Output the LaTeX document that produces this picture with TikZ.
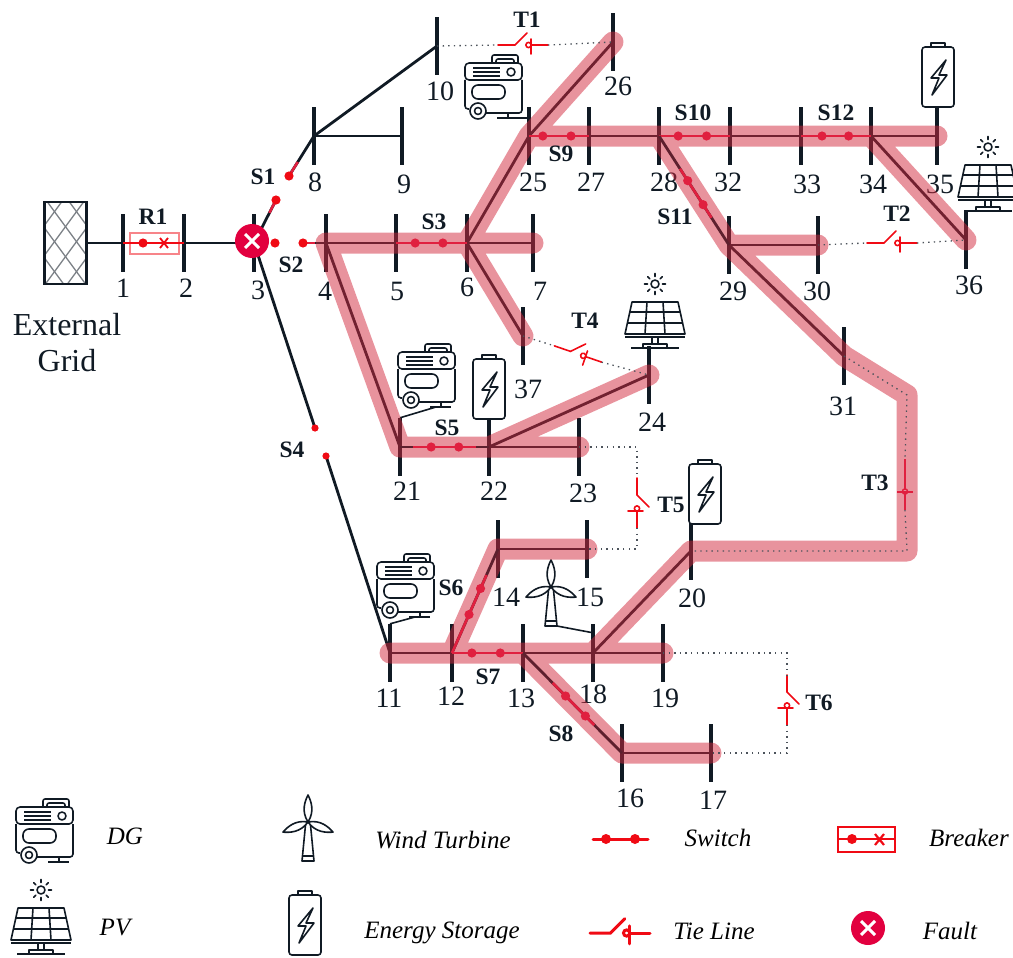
\documentclass[tikz,border=0pt]{standalone}
\usepackage{fontspec}
\setmainfont{Liberation Serif}
\usetikzlibrary{arrows.meta,calc,positioning}
\definecolor{ink}{HTML}{101A24}
\definecolor{swred}{HTML}{E0203F}
\definecolor{purered}{HTML}{F00A14}
\definecolor{faultred}{HTML}{E2003F}
\definecolor{feederred}{HTML}{D2283C}
\tikzset{
  bus/.style={rectangle, fill=ink, inner sep=0pt, minimum width=4pt, minimum height=58pt},
  buslabel/.style={text=ink, font=\fontsize{28}{28}\selectfont, inner sep=0pt},
  tag/.style={text=ink, font=\fontsize{23.5}{24}\selectfont\bfseries, inner sep=0pt},
  legendtext/.style={font=\fontsize{25}{25}\selectfont\itshape, inner sep=0pt},
  branch/.style={draw=ink, line width=2.8pt},
  feeder/.style={draw=feederred, draw opacity=.5, line width=21pt, line cap=round, line join=round},
  swline/.style={draw=swred, line width=2.6pt},
  swdot/.style={fill=swred},
  tiedots/.style={draw=ink!75, line width=1.3pt, dash pattern=on 1.4pt off 4.2pt},
  iconline/.style={draw=ink, line width=1.6pt, line join=round},
  % generator unit, origin at the top left corner
  dgunit/.pic={
    \draw[iconline, rounded corners=2pt] (27,9) -- (27,1) -- (53,1) -- (53,9);
    \draw[iconline, rounded corners=2pt] (31,9) -- (31,5) -- (49,5) -- (49,9);
    \draw[iconline, rounded corners=4pt] (0,26) -- (0,9) -- (57,9) -- (57,26) -- cycle;
    \draw[iconline, rounded corners=3pt] (4,55) -- (0,55) -- (0,26);
    \draw[iconline, rounded corners=3pt] (57,26) -- (57,59) -- (21,59);
    \foreach \v in {14,18,22} \draw[iconline] (8,\v) -- (35,\v);
    \draw[iconline] (46,18) circle (4pt);
    \draw[iconline, rounded corners=6pt] (7,31) rectangle (40,45);
    \draw[iconline, fill=white] (13,57) circle (8pt);
    \draw[iconline] (13,57) circle (3.5pt);
    \draw[iconline] (43,59) -- (43,64) (32,64) -- (53,64);
    \coordinate (-out) at (38,64);
  },
  % solar panel, origin at the centre of the sun
  pvunit/.pic={
    \draw[iconline] (0,0) circle (4pt);
    \foreach \a in {0,45,...,315} \draw[iconline, line cap=round] (\a:7.5) -- (\a:10.5);
    \draw[iconline, fill=white] (-23,18) -- (23,18) -- (30,50) -- (-30,50) -- cycle;
    \draw[iconline] (-30,53) -- (30,53);
    \draw[iconline] (-25,28) -- (25,28) (-28,39) -- (28,39);
    \draw[iconline] (-8,18) -- (-10,50) (8,18) -- (10,50);
    \draw[iconline] (-3,53) -- (-3,60) (3,53) -- (3,60);
    \draw[iconline] (-12,64) -- (-12,60) -- (12,60) -- (12,64);
    \draw[iconline] (-24,64) -- (24,64);
    \coordinate (-out) at (-14,64);
  },
  % battery, origin at the middle of the body's top edge
  storeunit/.pic={
    \draw[iconline] (-7,0) -- (-7,-4) -- (7,-4) -- (7,0);
    \draw[iconline, fill=white, rounded corners=3pt] (-16,0) rectangle (16,60);
    \draw[iconline] (8,13) -- (-7,31) -- (1,31) -- (-6,48) -- (9,28) -- (1,28) -- cycle;
  },
  % wind turbine, origin at the hub
  windunit/.pic={
    \foreach \a in {0,112,-112}
      \draw[iconline, fill=white, rotate=\a] (0,0) .. controls (-7,-11) and (-3,-21) .. (0,-27) .. controls (3,-21) and (7,-11) .. (0,0);
    \draw[iconline] (-2.5,3) -- (-6,39) -- (6,39) -- (2.5,3);
    \draw[iconline] (-5.5,34) -- (5.5,34);
    \coordinate (-out) at (6,39);
  },
  % open tie switch, drawn along its own x axis
  tieline/.pic={
    \draw[pic actions, line cap=round] (-25,0) -- (-8,0) -- (4,-12);
    \draw[pic actions, line cap=round] (9,0) -- (25,0) (8,-6) -- (8,9);
    \draw[pic actions] (5.5,0) circle (2.6pt);
    \coordinate (-in) at (-25,0);
    \coordinate (-out) at (25,0);
  },
  faultmark/.pic={
    \fill[faultred] (0,0) circle (17pt);
    \draw[white, line width=3pt] (-7,-7) -- (7,7) (-7,7) -- (7,-7);
  },
}
\begin{document}
\begin{tikzpicture}[x=1pt, y=-1pt]
  \useasboundingbox (0,0) rectangle (1013,958);
  % Busbars and their numbers
  \foreach \n/\bx/\by/\lx/\ly in {
      1/123/243/123/288, 2/184/243/186/288, 3/254/243/258/290, 4/326/243/325/291,
      5/396/243/397/291, 6/467/243/467/287, 7/533/243/540/291, 8/314/136/315/182,
      9/402/136/404/184, 10/437/46/440/91, 25/529/136/533/182, 26/613/42/618/86,
      27/589/136/591/182, 28/659/136/664/182, 32/730/136/728/182, 33/801/136/807/184,
      34/871/136/873/184, 35/937/136/940/184, 36/966/240/969/285, 29/729/245/733/291,
      30/818/245/817/291, 31/844/356/843/406, 21/400/447/407/491, 22/489/447/494/491,
      23/579/447/583/493, 24/649/375/652/422, 20/691/551/692/598, 14/498/549/506/597,
      15/587/549/590/597, 11/390/653/389/698, 12/452/653/451/696, 13/523/653/521/698,
      18/593/653/593/694, 19/663/653/665/698, 16/622/753/630/798, 17/711/753/713/800,
      37/523/336/528/389}
  {
    \node[bus] (b\n) at (\bx,\by) {};
    \node[buslabel] (l\n) at (\lx,\ly) {\n};
  }
  % External grid
  \node[draw=ink, line width=2.2pt, minimum width=42pt, minimum height=82pt, inner sep=0pt, path picture={
      \foreach \k in {-66,-44,...,44} {
        \draw[ink!55, line width=1.3pt] ($(path picture bounding box.north west)+(\k,-4)$) -- ++(66,90);
        \draw[ink!55, line width=1.3pt] ($(path picture bounding box.north east)+(-\k,-4)$) -- ++(-66,90);
      }}] (ext) at (65.5,243) {};
  \node[text=ink, font=\fontsize{32}{36}\selectfont, align=center, inner sep=0pt] (extname) at (67,343) {External\\Grid};
  % Open ends of the switches S1, S2 and S4
  \coordinate (s1a) at (276,200);
  \coordinate (s1b) at (289,176);
  \coordinate (s2a) at (275,243);
  \coordinate (s2b) at (303,243);
  \coordinate (s4a) at (315,428);
  \coordinate (s4b) at (326,456);
  % Plain lines
  \draw[branch] (ext) -- (b1.center);
  \draw[branch] (b2.center) -- (b3.center);
  \draw[branch] (b3.center) -- (s1a);
  \draw[branch] (s1b) -- (b8.center);
  \draw[branch] (s2b) -- (b4.center);
  \draw[branch] (b3.center) -- (s4a);
  \draw[branch] (s4b) -- (b11.center);
  \draw[branch] (b8.center) -- (b9.center);
  \draw[branch] (b8.center) -- (b10.center);
  \foreach \a/\b in {b4/b5, b6/b7, b6/b37, b6/b25, b25/b26, b27/b28, b32/b33, b34/b35, b34/b36,
      b29/b30, b29/b31, b4/b21, b22/b23, b22/b24, b11/b12, b13/b18, b18/b19, b18/b20, b14/b15,
      b16/b17}
    \draw[branch] (\a.center) -- (\b.center);
  % Equipment
  \pic (dga) at (465,54) {dgunit};
  \pic (dgb) at (398,343) {dgunit};
  \pic (dgc) at (377,553) {dgunit};
  \pic (pva) at (655,284) {pvunit};
  \pic (pvb) at (988,147) {pvunit};
  \pic (esa) at (489,359) {storeunit};
  \pic (esb) at (938,47) {storeunit};
  \pic (esc) at (705,464) {storeunit};
  \pic (wta) at (551,587) {windunit};
  \draw[iconline] (dga-out) -- (dga-out -| b25);
  \draw[iconline] (dgb-out) -- (b21.north);
  \draw[iconline] (dgc-out) -- (b11.north);
  \draw[iconline] (wta-out) -- ([yshift=-9pt]b18.north);
  \draw[branch] (pvb-out) -| (b36.north);
  % Restored feeders, one path so that the overlaps stay even
  \coordinate (cornera) at (907,395);
  \coordinate (cornerb) at (907,551);
  \draw[feeder] (b4.center) -- (b7.center)
      (b37.center) -- (b6.center) -- (b25.center) -- (b26.center)
      (b25.center) -- (b35.center)
      (b34.center) -- (b36.center)
      (b28.center) -- (b29.center) -- (b30.center)
      (b29.center) -- (b31.center) -- (cornera) -- (cornerb) -- (b20.center) -- (b18.center)
      (b4.center) -- (b21.center) -- (b23.center)
      (b22.center) -- (b24.center)
      (b11.center) -- (b19.center)
      (b12.center) -- (b14.center) -- (b15.center)
      (b13.center) -- (b16.center) -- (b17.center);
  % Closed switches S3, S5 to S12
  \foreach \a/\b/\s/\e/\p/\q in {b5/b6/0/1/.27/.66, b25/b27/0/1/.23/.7, b28/b32/0/1/.27/.67,
      b33/b34/0/1/.3/.68, b28/b29/.3/.75/.41/.63, b21/b22/.15/.85/.35/.66, b12/b14/0/.75/.37/.62,
      b12/b13/0/1/.28/.68, b13/b16/.3/.72/.43/.63}
  {
    \draw[branch, draw=ink!60!feederred] (\a.center) -- (\b.center);
    \draw[swline] ($(\a.center)!\s!(\b.center)$) -- ($(\a.center)!\e!(\b.center)$);
    \fill[swdot] ($(\a.center)!\p!(\b.center)$) circle (4.6pt);
    \fill[swdot] ($(\a.center)!\q!(\b.center)$) circle (4.6pt);
  }
  % Open switches S1, S2, S4
  \draw[swline] ($(b3.center)!.7!(s1a)$) -- (s1a);
  \draw[swline] (s1b) -- ($(s1b)!.35!(b8.center)$);
  \draw[swline] (s2b) -- ($(s2b)!.5!(b4.center)$);
  \fill[purered] (s1a) circle (4.6pt) (s1b) circle (4.6pt) (s2a) circle (4.6pt) (s2b) circle (4.6pt);
  \fill[purered] (s4a) circle (3.6pt) (s4b) circle (3.6pt);
  \pic (flt) at (252,241) {faultmark};
  % Breaker R1
  \draw[draw=purered, line width=1.8pt] (b1.center) -- (b2.center);
  \draw[draw=purered, draw opacity=.5, line width=1.2pt] (130,233) rectangle (179,254);
  \fill[purered] (143,243) circle (4.6pt);
  \draw[purered, line width=1.8pt] (160,238) -- (168,248) (160,248) -- (168,238);
  % Tie lines
  \pic[draw=purered, line width=1.6pt] (tia) at (523,45) {tieline};
  \pic[draw=purered, line width=1.6pt] (tib) at (892,243) {tieline};
  \pic[draw=purered, line width=1.6pt, rotate=-19] (tid) at (578,354) {tieline};
  \pic[draw=purered, line width=1.6pt, rotate=-90] (tie) at (637,503) {tieline};
  \pic[draw=purered, line width=1.6pt, rotate=-90] (tif) at (787,700) {tieline};
  \coordinate (tica) at (905,459);
  \coordinate (ticb) at (905,510);
  \coordinate (ticc) at (905,490);
  \draw[swline, line width=1.5pt] (tica) -- (ticc) ++(0,3) -- (ticb);
  \draw[swline, line width=1.5pt] (897,492) -- (913,492);
  \draw[swline, line width=1.5pt] (ticc) ++(0,1.5) circle (2.6pt);
  \draw[tiedots] (b10.center) -- (tia-in);
  \draw[tiedots] (tia-out) -- (b26.center);
  \draw[tiedots] (b30.center) -- (tib-in);
  \draw[tiedots] (tib-out) -- (b36.center);
  \draw[tiedots] (b31.center) -- (cornera) -- (tica);
  \draw[tiedots] (ticb) -- (cornerb) -- (b20.center);
  \draw[tiedots] (b37.center) -- (tid-in);
  \draw[tiedots] (tid-out) -- (b24.center);
  \draw[tiedots] (b23.center) -| (tie-in);
  \draw[tiedots] (tie-out) |- (b15.center);
  \draw[tiedots] (b19.center) -| (tif-in);
  \draw[tiedots] (tif-out) |- (b17.center);
  % Switch, tie and breaker tags
  \foreach \t/\tx/\ty in {R1/153/217, S1/263/177, S2/291/265, S3/434/222, S4/292/450, S5/447/428,
      S6/451/588, S7/488/677, S8/561/734, S9/561/154, S10/693/113, S11/675/217, S12/836/113,
      T1/527/20, T2/897/214, T3/875/483, T4/585/321, T5/671/505, T6/819/703}
    \node[tag] (tag\t) at (\tx,\ty) {\t};
  % Legend
  \pic (dgkey) at (16,798) {dgunit};
  \pic (pvkey) at (41,890) {pvunit};
  \pic (wtkey) at (308,822) {windunit};
  \pic (eskey) at (305,895) {storeunit};
  \coordinate (swkeya) at (593,839);
  \coordinate (swkeyb) at (648,839);
  \draw[draw=purered, line width=3pt, line cap=round] (swkeya) -- (swkeyb);
  \fill[purered] (606,839) circle (5pt) (635,839) circle (5pt);
  \draw[draw=purered, line width=2.2pt] (838,827) rectangle (895,852);
  \draw[draw=purered, line width=2.2pt] (838,839) -- (895,839);
  \fill[purered] (852,839) circle (5pt);
  \draw[purered, line width=2.2pt] (875,834) -- (884,845) (875,845) -- (884,834);
  \pic[draw=purered, line width=3pt, scale=1.2] (tikey) at (620,933) {tieline};
  \pic (fltkey) at (868,928) {faultmark};
  \node[legendtext] (dgname) at (125,836) {DG};
  \node[legendtext] (wtname) at (443,840) {Wind Turbine};
  \node[legendtext] (swname) at (718,838) {Switch};
  \node[legendtext] (brname) at (969,838) {Breaker};
  \node[legendtext] (pvname) at (115,927) {PV};
  \node[legendtext] (esname) at (442,933) {Energy Storage};
  \node[legendtext] (tiname) at (714,931) {Tie Line};
  \node[legendtext] (ftname) at (950,931) {Fault};
\end{tikzpicture}
\end{document}
